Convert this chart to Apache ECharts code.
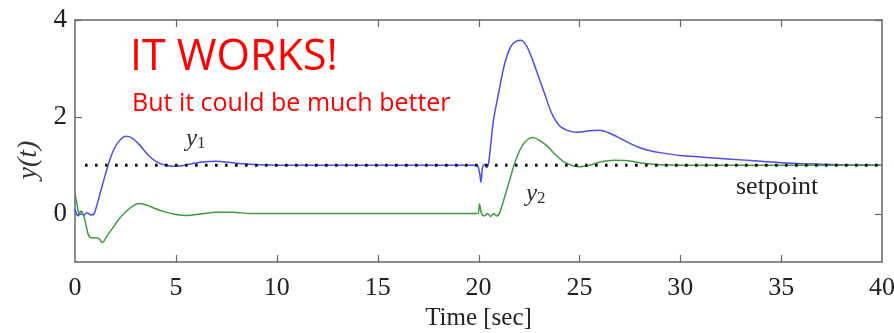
<!DOCTYPE html>
<html>
<head>
<meta charset="utf-8">
<script src="https://cdn.jsdelivr.net/npm/echarts@6/dist/echarts.min.js"></script>
<style>
  html, body { margin: 0; padding: 0; background: #fff; }
  #main { width: 894px; height: 333px; }
</style>
</head>
<body>
<div id="main"></div>
<script>
// time samples and values
const y1Time = [0, 0.15, 0.3, 0.45, 0.6, 0.8, 0.95, 1.2, 1.5, 1.8, 2.1, 2.5, 2.8, 3.2, 3.6, 4.0, 4.4, 4.8, 5.3, 5.8, 6.4, 7.0, 7.6, 8.3, 9, 10, 19.9, 20.05, 20.12, 20.2, 20.3, 20.4, 20.5, 20.6, 20.75, 21.0, 21.3, 21.6, 21.9, 22.1, 22.4, 22.7, 23.0, 23.3, 23.6, 24.0, 24.4, 24.9, 25.5, 26.0, 26.5, 27.0, 27.5, 28.0, 28.5, 29.0, 30, 31, 32, 33, 34, 35, 36, 37, 38, 40];
const y1Values = [0.1, -0.05, 0.05, -0.03, 0.02, -0.03, 0.0, 0.35, 0.8, 1.2, 1.45, 1.6, 1.57, 1.42, 1.22, 1.08, 1.01, 0.98, 0.99, 1.03, 1.07, 1.08, 1.06, 1.03, 1.01, 1.0, 1.0, 0.85, 0.65, 0.95, 1.02, 0.95, 1.05, 1.4, 1.95, 2.5, 3.1, 3.45, 3.57, 3.58, 3.45, 3.15, 2.8, 2.45, 2.1, 1.82, 1.72, 1.68, 1.71, 1.72, 1.66, 1.56, 1.45, 1.36, 1.3, 1.26, 1.2, 1.17, 1.14, 1.11, 1.08, 1.05, 1.03, 1.02, 1.01, 1.0];

const y2Time = [0, 0.1, 0.2, 0.3, 0.4, 0.5, 0.65, 0.8, 1.0, 1.2, 1.35, 1.6, 1.9, 2.2, 2.6, 3.0, 3.2, 3.6, 4.0, 4.5, 5.0, 5.5, 6.2, 7.0, 7.8, 8.7, 10, 19.95, 20.05, 20.15, 20.3, 20.45, 20.6, 20.75, 20.9, 21.05, 21.3, 21.55, 21.8, 22.1, 22.4, 22.7, 23.0, 23.4, 23.8, 24.2, 24.6, 25.0, 25.5, 26.0, 26.7, 27.4, 28.2, 29, 30, 40];
const y2Values = [0.4, 0.2, 0.0, 0.05, -0.02, -0.15, -0.42, -0.5, -0.5, -0.52, -0.6, -0.45, -0.28, -0.1, 0.07, 0.19, 0.21, 0.17, 0.1, 0.03, -0.02, -0.04, -0.01, 0.03, 0.03, 0.0, 0.0, 0.0, 0.2, 0.0, -0.05, 0.0, -0.06, 0.0, -0.05, 0.02, 0.35, 0.7, 1.05, 1.35, 1.52, 1.57, 1.52, 1.4, 1.22, 1.08, 1.0, 0.97, 1.0, 1.06, 1.1, 1.09, 1.04, 1.01, 1.0, 1.0];

const setpointTime = [0.5, 40];
const setpointValues = [1, 1];

const xTicks = [5, 10, 15, 20, 25, 30, 35];
const yTicks = [0, 2, 4];

function pairs(t, v) {
  return t.map((x, i) => [x, v[i]]);
}

const serif = '"Liberation Serif", "DejaVu Serif", serif';
const axisColor = '#666';
const tickLen = 7;

function frameX(pos, extra) {
  return Object.assign({
    type: 'value', min: 0, max: 40, interval: 5, position: pos,
    axisLine: { show: true, onZero: false, lineStyle: { color: axisColor, width: 1.5 } },
    axisTick: { show: false },
    axisLabel: { show: false },
    splitLine: { show: false }
  }, extra || {});
}
function frameY(pos, extra) {
  return Object.assign({
    type: 'value', min: -1, max: 4, interval: 1, position: pos,
    axisLine: { show: true, onZero: false, lineStyle: { color: axisColor, width: 1.5 } },
    axisTick: { show: false },
    axisLabel: { show: false },
    splitLine: { show: false }
  }, extra || {});
}

// inward ticks on both opposite sides of the frame, placed by the axis scale
function tickLine(x1, y1, x2, y2) {
  return { type: 'line', shape: { x1: x1, y1: y1, x2: x2, y2: y2 }, style: { stroke: axisColor, lineWidth: 1.2 } };
}
function renderXTick(params, api) {
  const cs = params.coordSys;
  const px = Math.round(api.coord([api.value(0), 0])[0]) + 0.5;
  const b = cs.y + cs.height, t = cs.y;
  return { type: 'group', children: [tickLine(px, b, px, b - tickLen), tickLine(px, t, px, t + tickLen)] };
}
function renderYTick(params, api) {
  const cs = params.coordSys;
  const py = Math.round(api.coord([0, api.value(1)])[1]) + 0.5;
  const l = cs.x, r = cs.x + cs.width;
  return { type: 'group', children: [tickLine(l, py, l + tickLen, py), tickLine(r, py, r - tickLen, py)] };
}

const chart = echarts.init(document.getElementById('main'));

const option = {
  animation: false,
  grid: { left: 75, right: 12, top: 20, bottom: 71, outerBoundsMode: 'none', containLabel: false },
  xAxis: [
    frameX('bottom', {
      name: 'Time [sec]', nameLocation: 'middle', nameGap: 42,
      nameTextStyle: { fontFamily: serif, fontSize: 25, color: '#222' },
      axisLabel: { fontFamily: serif, fontSize: 26, color: '#222', margin: 13 }
    }),
    frameX('top')
  ],
  yAxis: [
    frameY('left', {
      axisLabel: { fontFamily: serif, fontSize: 27, color: '#222', margin: 8, customValues: yTicks }
    }),
    frameY('right')
  ],
  series: [
    {
      name: 'xticks', type: 'custom', silent: true, z: 1,
      data: xTicks.map(v => [v, 0]),
      renderItem: renderXTick
    },
    {
      name: 'yticks', type: 'custom', silent: true, z: 1,
      data: yTicks.map(v => [0, v]),
      renderItem: renderYTick
    },
    {
      name: 'y1', type: 'line', data: pairs(y1Time, y1Values),
      showSymbol: false, smooth: 0.3,
      lineStyle: { color: '#4b4bf5', width: 1.5 }
    },
    {
      name: 'y2', type: 'line', data: pairs(y2Time, y2Values),
      showSymbol: false, smooth: 0.3,
      lineStyle: { color: '#3f9a3f', width: 1.5 }
    },
    {
      name: 'setpoint', type: 'line', data: pairs(setpointTime, setpointValues),
      showSymbol: false, z: 5,
      lineStyle: { color: '#000', width: 3, type: [2.5, 7.5] }
    }
  ],
  graphic: [
    {
      type: 'text', x: 29, y: 160, rotation: Math.PI / 2,
      style: {
        text: 'y(t)', fill: '#333', align: 'center', verticalAlign: 'middle',
        font: 'italic 28px "Liberation Serif", serif'
      }
    },
    {
      type: 'text', left: 130, top: 36,
      style: { text: 'IT WORKS!', fill: '#ff0000', font: '43px "Open Sans", sans-serif' }
    },
    {
      type: 'text', left: 132, top: 91,
      style: { text: 'But it could be much better', fill: '#ff0000', font: '25px "Open Sans", sans-serif' }
    },
    {
      type: 'text', left: 186, top: 127,
      style: {
        text: '{i|y}{s|1}',
        rich: {
          i: { fontFamily: serif, fontStyle: 'italic', fontSize: 25, fill: '#333', verticalAlign: 'bottom' },
          s: { fontFamily: serif, fontSize: 17, fill: '#333', verticalAlign: 'bottom' }
        }
      }
    },
    {
      type: 'text', left: 526, top: 182,
      style: {
        text: '{i|y}{s|2}',
        rich: {
          i: { fontFamily: serif, fontStyle: 'italic', fontSize: 25, fill: '#333', verticalAlign: 'bottom' },
          s: { fontFamily: serif, fontSize: 17, fill: '#333', verticalAlign: 'bottom' }
        }
      }
    },
    {
      type: 'text', left: 736, top: 174,
      style: { text: 'setpoint', fill: '#222', font: '26px "Liberation Serif", serif' }
    }
  ]
};

chart.setOption(option);
</script>
</body>
</html>
